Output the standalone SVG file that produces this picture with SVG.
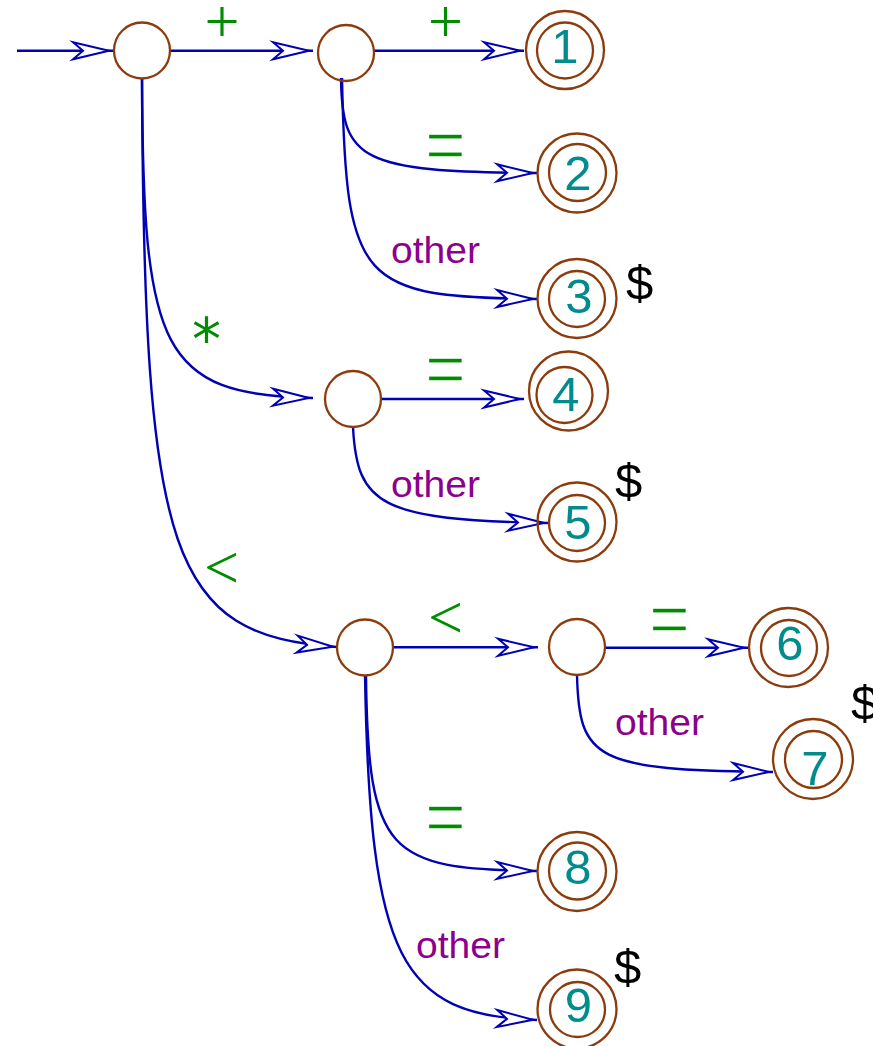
<svg xmlns="http://www.w3.org/2000/svg" width="873" height="1046" viewBox="0 0 873 1046">
  <style>
    .state { fill: none; stroke: #8c3c0c; stroke-width: 2.3; }
    .edge { fill: none; stroke: #0000b4; stroke-width: 2.4; marker-end: url(#head); }
    .num { font-family: "Liberation Sans", Arial, sans-serif; font-size: 49px; fill: #008c8c; text-anchor: middle; }
    .sym { font-family: "Liberation Serif", "Times New Roman", serif; font-size: 62px; fill: #008c00; text-anchor: middle; }
    .eq { font-family: "Liberation Sans", Arial, sans-serif; font-size: 70px; fill: #008c00; stroke: #ffffff; stroke-width: 1.4; text-anchor: middle; }
    .ast { font-family: "DejaVu Sans", sans-serif; font-size: 58px; fill: #008c00; text-anchor: middle; }
    .other { font-family: "Liberation Sans", Arial, sans-serif; font-size: 37px; fill: #8c008c; }
    .dollar { font-family: "Liberation Sans", Arial, sans-serif; font-size: 49px; fill: #000000; }
  </style>
  <defs>
    <marker id="head" markerUnits="userSpaceOnUse" viewBox="-42 -12 46 24" refX="0" refY="0" markerWidth="46" markerHeight="24" orient="auto" overflow="visible">
      <path d="M-40,-8.5 L-4,0 L-40,8.5 L-30,0 Z" fill="#ffffff" stroke="#0000b4" stroke-width="2" stroke-linejoin="miter" stroke-miterlimit="12"/>
    </marker>
  </defs>
  <rect width="873" height="1046" fill="#ffffff"/>

  <!-- transitions -->
  <g id="connectors">
    <path class="edge" d="M17,50.7 L113,50.7"/>
    <path class="edge" d="M170,50.7 L313,50.7"/>
    <path class="edge" d="M374,50.7 L524,50.7"/>
    <path class="edge" d="M341,78 C342,160 360,172 537,173"/>
    <path class="edge" d="M342,78 C346,285 360,297 537,299"/>
    <path class="edge" d="M142,78 C143,350 160,395 313,398"/>
    <path class="edge" d="M142,78 C144,560 170,635 337,647"/>
    <path class="edge" d="M381,399 L524,399"/>
    <path class="edge" d="M353,427 C357,505 380,520 548,523"/>
    <path class="edge" d="M393,647.3 L538,647.3"/>
    <path class="edge" d="M605,647.7 L748,647.7"/>
    <path class="edge" d="M577,675 C579,760 595,770 773,772"/>
    <path class="edge" d="M366,675 C368,855 388,869 537,871"/>
    <path class="edge" d="M365,675 C370,960 400,1015 537,1020"/>
  </g>

  <!-- transition labels -->
  <g id="edge-labels">
    <text class="sym" x="222" y="42">+</text>
    <text class="sym" x="445.5" y="42">+</text>
    <text class="eq" x="445.5" y="169">=</text>
    <text class="ast" x="206.5" y="360">*</text>
    <text class="eq" x="445.5" y="392.5">=</text>
    <text class="sym" x="221.5" y="588">&lt;</text>
    <text class="sym" x="445.5" y="638">&lt;</text>
    <text class="eq" x="669.5" y="642.5">=</text>
    <text class="eq" x="445.5" y="841">=</text>
    <text class="other" x="391" y="263" textLength="89" lengthAdjust="spacingAndGlyphs">other</text>
    <text class="other" x="391" y="497" textLength="89" lengthAdjust="spacingAndGlyphs">other</text>
    <text class="other" x="615" y="735" textLength="89" lengthAdjust="spacingAndGlyphs">other</text>
    <text class="other" x="416" y="958" textLength="89" lengthAdjust="spacingAndGlyphs">other</text>
  </g>

  <!-- states -->
  <g id="start"><circle class="state" cx="142" cy="50.5" r="28"/></g>
  <g id="plus"><circle class="state" cx="346" cy="53" r="28"/></g>
  <g id="star"><circle class="state" cx="353" cy="399" r="28"/></g>
  <g id="less"><circle class="state" cx="365" cy="647.5" r="28"/></g>
  <g id="lessless"><circle class="state" cx="577" cy="647" r="28"/></g>

  <g id="s1">
    <circle class="state" cx="565" cy="50" r="39"/>
    <circle class="state" cx="565" cy="50.5" r="28"/>
    <text class="num" x="565" y="62.5">1</text>
  </g>
  <g id="s2">
    <circle class="state" cx="577" cy="173" r="39.5"/>
    <circle class="state" cx="577.5" cy="172.5" r="28.5"/>
    <text class="num" x="578" y="189.5">2</text>
  </g>
  <g id="s3">
    <circle class="state" cx="577" cy="298.5" r="39.5"/>
    <circle class="state" cx="577" cy="299" r="28"/>
    <text class="num" x="579" y="312.5">3</text>
    <text class="dollar" x="626" y="300">$</text>
  </g>
  <g id="s4">
    <circle class="state" cx="568.5" cy="391" r="39.5"/>
    <circle class="state" cx="564.5" cy="395" r="28"/>
    <text class="num" x="566" y="410.5">4</text>
  </g>
  <g id="s5">
    <circle class="state" cx="577" cy="522" r="39.5"/>
    <circle class="state" cx="577" cy="523" r="28"/>
    <text class="num" x="578" y="539">5</text>
    <text class="dollar" x="615" y="498">$</text>
  </g>
  <g id="s6">
    <circle class="state" cx="788.5" cy="647.5" r="39.5"/>
    <circle class="state" cx="789" cy="648" r="28"/>
    <text class="num" x="790" y="660" font-size="40">6</text>
  </g>
  <g id="s7">
    <circle class="state" cx="813" cy="759" r="40"/>
    <circle class="state" cx="813.5" cy="759.5" r="28.5"/>
    <text class="num" x="815" y="785">7</text>
    <text class="dollar" x="851" y="720">$</text>
  </g>
  <g id="s8">
    <circle class="state" cx="577" cy="871.5" r="39.5"/>
    <circle class="state" cx="577.5" cy="871" r="28.5"/>
    <text class="num" x="578" y="883.5">8</text>
  </g>
  <g id="s9">
    <circle class="state" cx="577" cy="1009" r="39.5"/>
    <circle class="state" cx="577.5" cy="1009.5" r="27.5"/>
    <text class="num" x="578.5" y="1022">9</text>
    <text class="dollar" x="614" y="984">$</text>
  </g>
</svg>
